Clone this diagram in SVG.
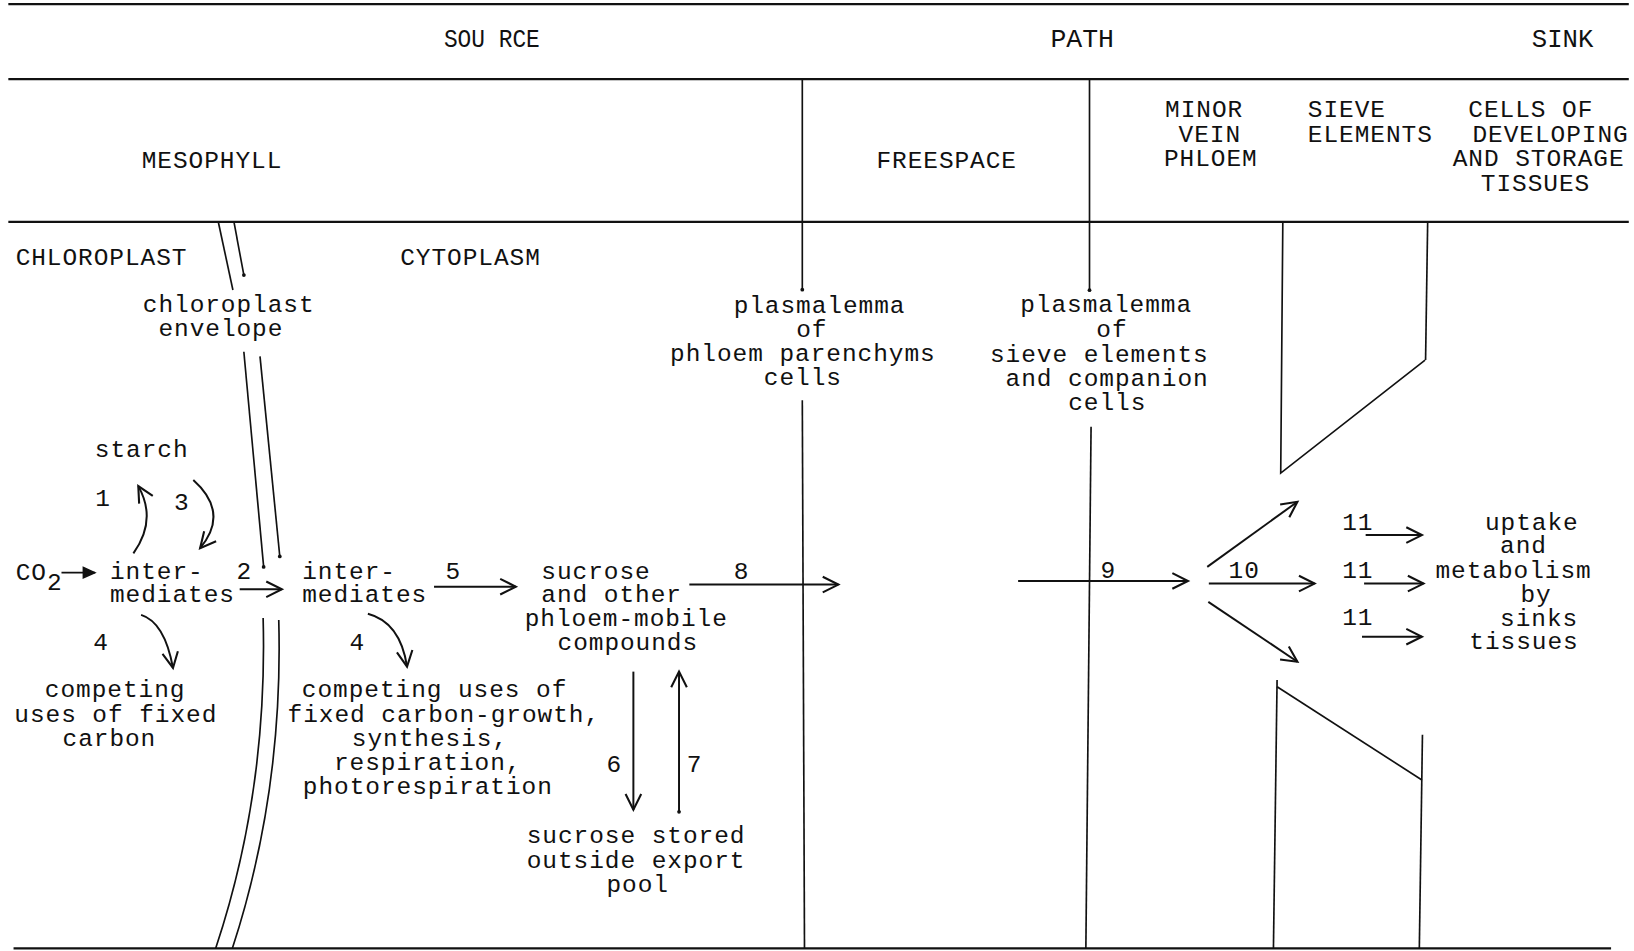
<svg xmlns="http://www.w3.org/2000/svg" width="1634" height="951" viewBox="0 0 1634 951">
<style>
.t{font-family:"Liberation Mono","DejaVu Sans Mono",monospace;font-size:23.5px;letter-spacing:0.9px;fill:#111}
.h{font-family:"Liberation Mono","DejaVu Sans Mono",monospace;font-size:24px;fill:#111}
.rule{stroke:#111;stroke-width:2.2;fill:none}
.wall{stroke:#111;stroke-width:1.6;fill:none}
.arr{stroke:#111;stroke-width:1.9;fill:none;marker-end:url(#ah)}
.arrs{stroke:#111;stroke-width:1.9;fill:none;marker-end:url(#ahs)}
.dot{fill:#111}
</style>
<defs>
<marker id="ah" markerUnits="userSpaceOnUse" orient="auto" refX="0" refY="0" markerWidth="40" markerHeight="40" overflow="visible">
<path d="M-15,-7.5 L0,0 L-15,7.5" fill="none" stroke="#111" stroke-width="2"/>
</marker>
<marker id="ahs" markerUnits="userSpaceOnUse" orient="auto" refX="0" refY="0" markerWidth="40" markerHeight="40" overflow="visible">
<path d="M-11,-5 L0,0 L-11,5 Z" fill="#111" stroke="#111" stroke-width="1.5"/>
</marker>
</defs>
<rect width="1634" height="951" fill="#fff"/>
<g transform="scale(1.04209)">
<g id="frame">
<path class="rule" d="M8,4 H1563"/>
<path class="rule" d="M8,76 H1563"/>
<path class="rule" d="M8,213 H1563"/>
<path class="rule" d="M13,910 H1546"/>
<path class="wall" d="M769.9,76 V278"/>
<path class="wall" d="M769.9,384 L772,910"/>
<path class="wall" d="M1045.5,76 V278.5"/>
<path class="wall" d="M1047,409.5 L1042,910"/>
<circle class="dot" cx="769.9" cy="278" r="1.8"/>
<circle class="dot" cx="1045.5" cy="278.5" r="1.8"/>
</g>
<g id="chloroplast-envelope-walls">
<path class="wall" d="M209.5,213 L223.5,278.3"/>
<path class="wall" d="M224.5,213 L234,264"/>
<circle class="dot" cx="234" cy="264" r="1.8"/>
<path class="wall" d="M234,337.5 L253,544"/>
<circle class="dot" cx="253" cy="544" r="1.8"/>
<path class="wall" d="M249.5,342 L268.5,534"/>
<circle class="dot" cx="268.5" cy="534" r="1.8"/>
<path class="wall" d="M252.5,593 Q257,760 207,910"/>
<path class="wall" d="M267.5,595 Q272,760 223,910"/>
</g>
<g id="sieve-element-walls">
<path class="wall" d="M1231,213 L1229,454 L1367.5,345.5"/>
<path class="wall" d="M1370,213 L1368,345.5"/>
<path class="wall" d="M1225.5,652.5 L1222,910"/>
<path class="wall" d="M1225.5,659 L1364.5,748.5"/>
<path class="wall" d="M1365,705 L1362,910"/>
</g>
<g id="headers">
<text class="h" x="426" y="45" textLength="92" lengthAdjust="spacingAndGlyphs">SOU RCE</text>
<text class="h" x="1008" y="45" textLength="61" lengthAdjust="spacingAndGlyphs">PATH</text>
<text class="h" x="1470" y="45" textLength="59" lengthAdjust="spacingAndGlyphs">SINK</text>
</g>
<g id="mesophyll"><text class="t" x="136" y="161">MESOPHYLL</text></g>
<g id="freespace"><text class="t" x="841" y="161">FREESPACE</text></g>
<g id="minor-vein-phloem">
<text class="t" x="1118" y="112.5">MINOR</text>
<text class="t" x="1131" y="136">VEIN</text>
<text class="t" x="1117" y="159.5">PHLOEM</text>
</g>
<g id="sieve-elements">
<text class="t" x="1255" y="112.5">SIEVE</text>
<text class="t" x="1255" y="136">ELEMENTS</text>
</g>
<g id="cells-of-developing">
<text class="t" x="1409" y="112.5">CELLS OF</text>
<text class="t" x="1413" y="136">DEVELOPING</text>
<text class="t" x="1394" y="159.5">AND STORAGE</text>
<text class="t" x="1421" y="183">TISSUES</text>
</g>
<g id="chloroplast"><text class="t" x="15" y="254">CHLOROPLAST</text></g>
<g id="cytoplasm"><text class="t" x="384" y="254">CYTOPLASM</text></g>
<g id="chloroplast-envelope">
<text class="t" x="137" y="299">chloroplast</text>
<text class="t" x="152" y="322">envelope</text>
</g>
<g id="plasmalemma-parenchyma">
<text class="t" x="704" y="300.5">plasmalemma</text>
<text class="t" x="764" y="323.5">of</text>
<text class="t" x="643" y="346.5">phloem parenchyms</text>
<text class="t" x="733" y="369.5">cells</text>
</g>
<g id="plasmalemma-sieve">
<text class="t" x="979" y="299.5">plasmalemma</text>
<text class="t" x="1052" y="323">of</text>
<text class="t" x="950" y="347">sieve elements</text>
<text class="t" x="965" y="370">and companion</text>
<text class="t" x="1025" y="393">cells</text>
</g>
<g id="starch"><text class="t" x="91" y="439">starch</text></g>
<g id="co2"><text class="t" x="15" y="556.5">CO<tspan dy="10">2</tspan></text></g>
<g id="intermediates-chloroplast">
<text class="t" x="105.5" y="556">inter-</text>
<text class="t" x="105.5" y="577.5">mediates</text>
</g>
<g id="intermediates-cytoplasm">
<text class="t" x="290" y="556">inter-</text>
<text class="t" x="290" y="577.5">mediates</text>
</g>
<g id="sucrose-pool">
<text class="t" x="519.5" y="555.5">sucrose</text>
<text class="t" x="519.5" y="577.5">and other</text>
<text class="t" x="503.5" y="600.5">phloem-mobile</text>
<text class="t" x="535" y="624">compounds</text>
</g>
<g id="competing-chloroplast">
<text class="t" x="43" y="669">competing</text>
<text class="t" x="13.7" y="692.5">uses of fixed</text>
<text class="t" x="60" y="715.5">carbon</text>
</g>
<g id="competing-cytoplasm">
<text class="t" x="289.6" y="669">competing uses of</text>
<text class="t" x="276" y="692.5">fixed carbon-growth,</text>
<text class="t" x="337.6" y="715.5">synthesis,</text>
<text class="t" x="320.5" y="738.5">respiration,</text>
<text class="t" x="290.6" y="761.5">photorespiration</text>
</g>
<g id="sucrose-stored">
<text class="t" x="505.4" y="809">sucrose stored</text>
<text class="t" x="505.4" y="832.5">outside export</text>
<text class="t" x="582" y="856">pool</text>
</g>
<g id="uptake-sinks">
<text class="t" x="1425" y="508.5">uptake</text>
<text class="t" x="1439.5" y="531">and</text>
<text class="t" x="1377.5" y="555">metabolism</text>
<text class="t" x="1459" y="578">by</text>
<text class="t" x="1439.5" y="600.5">sinks</text>
<text class="t" x="1410" y="623">tissues</text>
</g>
<g id="connectors">
<path class="arrs" d="M59,549.5 L91,549.5"/>
<path class="arr" d="M128,531 Q151,499 132.7,466.5"/>
<path class="arr" d="M185.5,460.6 Q220.6,492 192,526"/>
<path class="arr" d="M135.4,590 Q158,597 166,641"/>
<path class="arr" d="M230,565.5 L270.5,565.5"/>
<path class="arr" d="M353,589 Q384,597 390.6,639.7"/>
<path class="arr" d="M416.5,563 L495,563"/>
<path class="arr" d="M661.5,561 L804.5,561"/>
<path class="arr" d="M607.8,644.5 L607.8,777"/>
<path class="arr" d="M651.6,779 L651.6,644.5"/>
<circle class="dot" cx="651.6" cy="779" r="1.8"/>
<path class="arr" d="M977,557.5 L1140,557.5"/>
<path class="arr" d="M1160,560 L1261.5,560"/>
<path class="arr" d="M1158.5,544 L1245,481.5"/>
<path class="arr" d="M1159.5,577.5 L1245,635"/>
<path class="arr" d="M1310.5,513.5 L1364.5,513.5"/>
<path class="arr" d="M1309,560 L1366,560"/>
<path class="arr" d="M1307,611 L1364.5,611"/>
</g>
<g id="step-labels">
<text class="t" x="91.5" y="486">1</text>
<text class="t" x="167" y="489">3</text>
<text class="t" x="227" y="556">2</text>
<text class="t" x="89.5" y="624">4</text>
<text class="t" x="335.5" y="624">4</text>
<text class="t" x="427.5" y="556">5</text>
<text class="t" x="582" y="740.5">6</text>
<text class="t" x="659" y="740.5">7</text>
<text class="t" x="704" y="556">8</text>
<text class="t" x="1056" y="555">9</text>
<text class="t" x="1179" y="555">10</text>
<text class="t" x="1288" y="508.5">11</text>
<text class="t" x="1288" y="555">11</text>
<text class="t" x="1288" y="600">11</text>
</g>
</g>
</svg>
